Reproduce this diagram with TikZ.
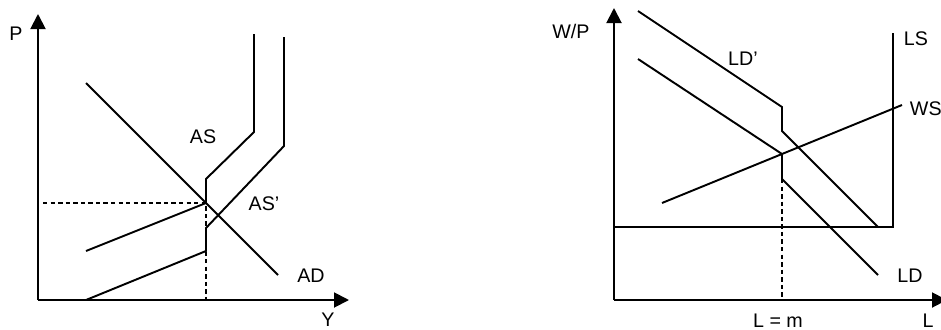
\documentclass[tikz,border=0pt]{standalone}
\usepackage{fontspec}
\setmainfont{Liberation Sans}
\usetikzlibrary{arrows.meta}

\begin{document}
\begin{tikzpicture}[x=0.02cm,y=-0.02cm,line width=1.1pt,
  axis/.style={-{Triangle[length=0.3cm,width=0.3cm]}},
  guide/.style={line width=0.6pt,dash pattern=on 2.5pt off 1.8pt},
  lbl/.style={anchor=base,inner sep=0pt,font=\fontsize{11.2}{13}\selectfont}]
  \useasboundingbox (0,0) rectangle (941,329);

  % goods market: P against Y
  \coordinate (o1) at (38,300);
  \coordinate (ptop) at (38,14);
  \coordinate (yend) at (349,300);
  \coordinate (e1) at (206,203);
  \draw[axis] (o1) -- (ptop);
  \draw[axis] (o1) -- (yend);
  \draw (86,83) -- (278,275);
  \draw (86,251) -- (e1) -- (206,179) -- (254,132) -- (254,34);
  \draw (86,300) -- (206,251) -- (206,228) -- (284,146) -- (284,37);
  \draw[guide] (43,203) -- (e1) -- (206,300);
  \node[lbl] (p) at (16,40) {P};
  \node[lbl] (y) at (328,326) {Y};
  \node[lbl] (as) at (203,143) {AS};
  \node[lbl] (as2) at (264,210) {AS’};
  \node[lbl] (ad) at (311,282) {AD};

  % labour market: W/P against L
  \coordinate (o2) at (614,300);
  \coordinate (wtop) at (614,8);
  \coordinate (lend) at (947,300);
  \coordinate (e2) at (782,154);
  \draw[axis] (o2) -- (wtop);
  \draw[axis] (o2) -- (lend);
  \draw (638,11) -- (782,107) -- (782,131) -- (878,227);
  \draw (638,59) -- (e2) -- (782,179) -- (878,275);
  \draw (662,203) -- (902,105);
  \draw (614,227) -- (893,227) -- (893,33);
  \draw[guide] (782,179) -- (782,300);
  \node[lbl] (wp) at (571,38) {W/P};
  \node[lbl] (ld2) at (743,65) {LD’};
  \node[lbl] (ls) at (916,45) {LS};
  \node[lbl,anchor=base west] (ws) at (909,115) {WS};
  \node[lbl] (ld) at (910,282) {LD};
  \node[lbl] (lm) at (778,327) {L = m};
  \node[lbl] (l) at (928,327) {L};
\end{tikzpicture}
\end{document}
